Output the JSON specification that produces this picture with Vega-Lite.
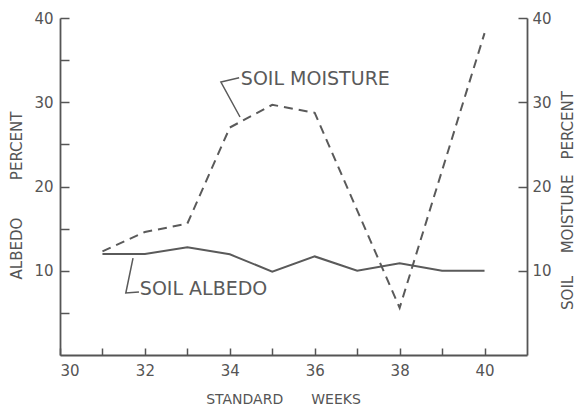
{
  "$schema": "https://vega.github.io/schema/vega-lite/v6.json",
  "width": 467,
  "height": 337,
  "autosize": "none",
  "padding": {"left": 60, "top": 18, "right": 49, "bottom": 51},
  "background": "white",
  "config": {
    "view": {"stroke": null},
    "font": "DejaVu Sans",
    "axis": {
      "domainColor": "#555",
      "domainWidth": 1.8,
      "tickColor": "#555",
      "tickWidth": 1.5,
      "labelColor": "#555",
      "labelFont": "DejaVu Sans",
      "labelFontSize": 15,
      "titleColor": "#555",
      "titleFont": "DejaVu Sans",
      "titleFontSize": 15,
      "titleFontWeight": "normal",
      "grid": false
    }
  },
  "layer": [
    {
      "layer": [
        {
          "data": {
            "values": [
              {"week": 31, "albedo": 12.0},
              {"week": 32, "albedo": 12.0},
              {"week": 33, "albedo": 12.8},
              {"week": 34, "albedo": 11.95},
              {"week": 35, "albedo": 9.9},
              {"week": 36, "albedo": 11.7},
              {"week": 37, "albedo": 10.0},
              {"week": 38, "albedo": 10.9},
              {"week": 39, "albedo": 10.0},
              {"week": 40, "albedo": 10.0}
            ]
          },
          "mark": {"type": "line", "color": "#5a5a5a", "strokeWidth": 2},
          "encoding": {
            "x": {
              "field": "week", "type": "quantitative",
              "scale": {"domain": [30, 41], "nice": false, "zero": false},
              "axis": {
                "values": [30, 31, 32, 33, 34, 35, 36, 37, 38, 39, 40],
                "labelExpr": "datum.value % 2 == 0 ? datum.label : ''",
                "tickSize": -7,
                "labelPadding": 15,
                "title": "STANDARD\u2003\u2003WEEKS",
                "titleX": 223,
                "titleY": 44,
                "titleBaseline": "middle",
                "titleFontSize": 14
              }
            },
            "y": {
              "field": "albedo", "type": "quantitative",
              "scale": {"domain": [0, 40], "nice": false},
              "axis": {
                "values": [5, 10, 15, 20, 25, 30, 35, 40],
                "labelExpr": "datum.value % 10 == 0 ? datum.label : ''",
                "tickSize": -9,
                "labelPadding": 16,
                "title": "ALBEDO\u2003\u2003\u2002PERCENT",
                "titleAngle": 270,
                "titleX": -44,
                "titleY": 177,
                "titleBaseline": "middle",
                "titleFontSize": 15
              }
            }
          }
        },
        {
          "data": {
            "values": [
              {"week": 34.24, "albedo": 28.25, "leader": "moisture", "ord": 1},
              {"week": 33.79, "albedo": 32.4, "leader": "moisture", "ord": 2},
              {"week": 34.22, "albedo": 32.9, "leader": "moisture", "ord": 3},
              {"week": 31.72, "albedo": 11.5, "leader": "albedo", "ord": 1},
              {"week": 31.55, "albedo": 7.36, "leader": "albedo", "ord": 2},
              {"week": 31.86, "albedo": 7.48, "leader": "albedo", "ord": 3}
            ]
          },
          "mark": {"type": "line", "color": "#5a5a5a", "strokeWidth": 1.5},
          "encoding": {
            "x": {"field": "week", "type": "quantitative"},
            "y": {"field": "albedo", "type": "quantitative"},
            "detail": {"field": "leader"},
            "order": {"field": "ord"}
          }
        },
        {
          "data": {
            "values": [
              {"week": 34.26, "albedo": 32.8, "label": "SOIL MOISTURE"},
              {"week": 31.88, "albedo": 7.85, "label": "SOIL ALBEDO"}
            ]
          },
          "mark": {"type": "text", "align": "left", "baseline": "middle", "font": "DejaVu Sans", "fontSize": 19, "color": "#5a5a5a"},
          "encoding": {
            "x": {"field": "week", "type": "quantitative"},
            "y": {"field": "albedo", "type": "quantitative"},
            "text": {"field": "label"}
          }
        }
      ]
    },
    {
      "data": {
        "values": [
          {"week": 31, "moisture": 12.3},
          {"week": 32, "moisture": 14.6},
          {"week": 33, "moisture": 15.6},
          {"week": 34, "moisture": 27.0},
          {"week": 35, "moisture": 29.7},
          {"week": 36, "moisture": 28.75},
          {"week": 38, "moisture": 5.6},
          {"week": 40, "moisture": 38.2}
        ]
      },
      "mark": {"type": "line", "color": "#5a5a5a", "strokeWidth": 2, "strokeDash": [9, 6]},
      "encoding": {
        "x": {"field": "week", "type": "quantitative"},
        "y": {
          "field": "moisture", "type": "quantitative",
          "scale": {"domain": [0, 40], "nice": false},
          "axis": {
            "orient": "right",
            "values": [10, 20, 30, 40],
            "tickSize": -9,
            "labelPadding": 14,
            "title": "SOIL\u2003\u2002MOISTURE\u2003PERCENT",
            "titleAngle": 270,
            "titleX": 40,
            "titleY": 182,
            "titleBaseline": "middle",
            "titleFontSize": 15
          }
        }
      }
    }
  ],
  "resolve": {"scale": {"y": "independent"}}
}
